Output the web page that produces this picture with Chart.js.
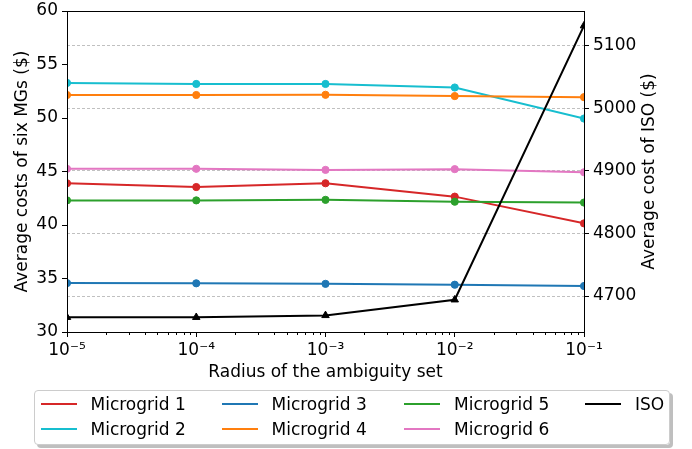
<!DOCTYPE html>
<html><head><meta charset="utf-8">
<script src="https://cdn.jsdelivr.net/npm/chart.js@4/dist/chart.umd.min.js"></script>
<style>
html,body{margin:0;padding:0;background:#fff;}
#wrap{position:relative;width:692px;height:449px;font-family:"DejaVu Sans";overflow:hidden;}
canvas{position:absolute;left:0;top:0;}
#legend{position:absolute;left:34px;top:390px;width:634px;height:53px;border:1px solid #cccccc;border-radius:4px;background:rgba(255,255,255,0.8);box-shadow:3px 3px 0 rgba(128,128,128,0.5);}
.item{position:absolute;height:20px;font-size:17px;line-height:20px;white-space:nowrap;color:#000;}
.item .ln{position:absolute;left:0;top:9px;width:36px;height:2px;}
.item .tx{position:absolute;left:50px;top:0;}
</style></head>
<body>
<div id="wrap">
<canvas id="c" width="692" height="449"></canvas>
<div id="legend"></div>
</div>
<script>
const radius = [1e-5, 1e-4, 1e-3, 1e-2, 1e-1];
const mg1 = [43.9, 43.55, 43.9, 42.65, 40.15];
const mg2 = [53.28, 53.18, 53.18, 52.85, 49.95];
const mg3 = [34.57, 34.55, 34.5, 34.42, 34.3];
const mg4 = [52.15, 52.15, 52.17, 52.05, 51.95];
const mg5 = [42.3, 42.3, 42.35, 42.18, 42.1];
const mg6 = [45.25, 45.25, 45.15, 45.22, 44.93];
const iso = [4666, 4666, 4669, 4694, 5132];
const leftTicks = [30, 35, 40, 45, 50, 55, 60];
const rightTicks = [4700, 4800, 4900, 5000, 5100];
const seriesNames = ['Microgrid 1','Microgrid 2','Microgrid 3','Microgrid 4','Microgrid 5','Microgrid 6','ISO'];
const seriesColors = ['#d62728','#17becf','#1f77b4','#ff7f0e','#2ca02c','#e377c2','#000000'];
const seriesValues = [mg1, mg2, mg3, mg4, mg5, mg6, iso];

Chart.defaults.font.family = '"DejaVu Sans"';
Chart.defaults.font.size = 17;
Chart.defaults.color = '#000';

const supMap = {'-':'\u207B','0':'\u2070','1':'\u00B9','2':'\u00B2','3':'\u00B3','4':'\u2074','5':'\u2075','6':'\u2076','7':'\u2077','8':'\u2078','9':'\u2079'};
function fmtPow(v){
  const e = Math.round(Math.log10(v));
  return '10' + String(e).split('').map(c=>supMap[c]).join('');
}

const datasets = seriesValues.map((vals, i) => {
  const isIso = i === 6;
  return {
    label: seriesNames[i],
    data: radius.map((x, j) => ({x: x, y: vals[j]})),
    borderColor: seriesColors[i],
    backgroundColor: seriesColors[i],
    borderWidth: 2,
    pointRadius: isIso ? 4.3 : 3.6,
    pointBorderWidth: 1,
    pointStyle: isIso ? 'triangle' : 'circle',
    yAxisID: isIso ? 'y1' : 'y',
    tension: 0,
    fill: false,
    clip: 0,
    order: 7 - i
  };
});

const extra = {
  id: 'extra',
  afterDatasetsDraw(chart){
    const {ctx, chartArea:{left,right,top,bottom}} = chart;
    ctx.save();
    ctx.strokeStyle = '#000';
    ctx.lineWidth = 1;
    ctx.strokeRect(left + 0.5, top + 0.5, right - left, bottom - top);
    // minor log ticks
    const xs = chart.scales.x;
    ctx.beginPath();
    for (let n = -5; n < -1; n++) {
      for (let k = 2; k <= 9; k++) {
        const px = Math.round(xs.getPixelForValue(k * Math.pow(10, n))) + 0.5;
        ctx.moveTo(px, bottom);
        ctx.lineTo(px, bottom + 3);
      }
    }
    ctx.stroke();
    // right axis title (reads bottom to top)
    ctx.translate(650, (top + bottom) / 2);
    ctx.rotate(-Math.PI / 2);
    ctx.fillStyle = '#000';
    ctx.font = '17px "DejaVu Sans"';
    ctx.textAlign = 'center';
    ctx.textBaseline = 'middle';
    ctx.fillText('Average cost of ISO ($)', 0, 0);
    ctx.restore();
  }
};

new Chart(document.getElementById('c'), {
  type: 'line',
  data: { datasets },
  plugins: [extra],
  options: {
    responsive: false,
    animation: false,
    devicePixelRatio: 1,
    layout: { padding: { left: 0, right: 0, top: 11, bottom: 65 } },
    plugins: { legend: { display: false }, tooltip: { enabled: false } },
    scales: {
      x: {
        type: 'logarithmic',
        min: 1e-5, max: 1e-1,
        afterBuildTicks: s => { s.ticks = radius.map(v => ({value: v})); },
        afterFit: s => { s.height = 52; },
        ticks: { callback: v => fmtPow(v), autoSkip: false, maxRotation: 0, padding: 3, color: '#000' },
        grid: { display: true, drawOnChartArea: false, tickLength: 5, tickColor: '#000', tickWidth: 1 },
        border: { display: false },
        title: { display: true, text: 'Radius of the ambiguity set', padding: { top: 0, bottom: 1 }, color: '#000' }
      },
      y: {
        type: 'linear',
        position: 'left',
        min: 30, max: 60,
        afterBuildTicks: s => { s.ticks = leftTicks.map(v => ({value: v})); },
        afterFit: s => { s.width = 67; s.paddingTop = 0; s.paddingBottom = 0; },
        ticks: { callback: v => String(v), padding: 4, color: '#000' },
        grid: { drawOnChartArea: false, tickLength: 5, tickColor: '#000', tickWidth: 1 },
        border: { display: false },
        title: { display: true, text: 'Average costs of six MGs ($)', padding: { top: 12, bottom: 0 }, color: '#000' }
      },
      y1: {
        type: 'linear',
        position: 'right',
        min: 4642.5, max: 5155.5,
        afterBuildTicks: s => { s.ticks = rightTicks.map(v => ({value: v})); },
        afterFit: s => { s.width = 108; s.paddingTop = 0; s.paddingBottom = 0; },
        ticks: { callback: v => String(v), padding: 4, color: '#000' },
        grid: { drawOnChartArea: true, color: '#b0b0b0', lineWidth: 0.8, tickLength: 5, tickColor: '#000', tickWidth: 1 },
        border: { display: false, dash: [3, 2] }
      }
    }
  }
});

// HTML legend, column-major like the reference (2 rows x 4 columns)
const legend = document.getElementById('legend');
const colX = [5.5, 186.5, 369, 550];
const rowY = [3, 28];
seriesNames.forEach((name, i) => {
  const col = Math.floor(i / 2), row = i % 2;
  const it = document.createElement('div');
  it.className = 'item';
  it.style.left = colX[col] + 'px';
  it.style.top = rowY[row] + 'px';
  const ln = document.createElement('div');
  ln.className = 'ln';
  ln.style.background = seriesColors[i];
  const tx = document.createElement('span');
  tx.className = 'tx';
  tx.textContent = name;
  it.appendChild(ln); it.appendChild(tx);
  legend.appendChild(it);
});
</script>
</body></html>
